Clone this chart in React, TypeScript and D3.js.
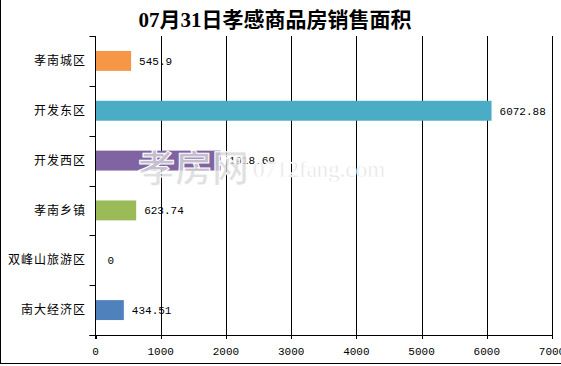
import React, { useEffect, useRef } from 'react';
import * as d3 from 'd3';

const categories = ['孝南城区', '开发东区', '开发西区', '孝南乡镇', '双峰山旅游区', '南大经济区'];
const areaValues = [545.9, 6072.88, 1918.69, 623.74, 0, 434.51];
const barColors = ['#F79646', '#4BACC6', '#8064A2', '#9BBB59', '#4F81BD', '#4F81BD'];
const xTicks = [0, 1000, 2000, 3000, 4000, 5000, 6000, 7000];
const title = '07月31日孝感商品房销售面积';

const W = 561;
const H = 366;

const App: React.FC = () => {
  const svgRef = useRef<SVGSVGElement>(null);

  useEffect(() => {
    if (!svgRef.current) return;
    const svg = d3.select(svgRef.current);
    svg.selectAll('*').remove();

    const left = 95.5;
    const right = 552;
    const top = 36;
    const bottom = 335;

    svg.append('rect').attr('width', W).attr('height', H).attr('fill', '#fff');

    // frame (left + bottom)
    svg.append('line').attr('x1', 0.5).attr('x2', 0.5).attr('y1', 0).attr('y2', 364)
      .attr('stroke', '#000');
    svg.append('line').attr('x1', 0).attr('x2', W).attr('y1', 363.5).attr('y2', 363.5)
      .attr('stroke', '#000');

    svg.append('text')
      .attr('x', 275)
      .attr('y', 27)
      .attr('text-anchor', 'middle')
      .attr('font-family', 'Liberation Serif, Noto Sans CJK SC, serif')
      .attr('font-weight', 'bold')
      .attr('font-size', 21)
      .attr('fill', '#000')
      .text(title);

    const xScale = d3.scaleLinear().domain([0, 7000]).range([left, right]);
    const yScale = d3.scaleBand<string>()
      .domain(categories)
      .range([top, bottom])
      .paddingInner(0.6)
      .paddingOuter(0.3);

    const g = svg.append('g');

    // gridlines
    g.selectAll('.grid')
      .data(xTicks.slice(1))
      .enter()
      .append('line')
      .attr('x1', (d) => Math.round(xScale(d)) + 0.5)
      .attr('x2', (d) => Math.round(xScale(d)) + 0.5)
      .attr('y1', top)
      .attr('y2', bottom)
      .attr('stroke', '#000');

    // bars
    g.selectAll('.bar')
      .data(areaValues)
      .enter()
      .append('rect')
      .attr('x', left)
      .attr('y', (_d, i) => yScale(categories[i]) || 0)
      .attr('width', (d) => xScale(d) - left)
      .attr('height', yScale.bandwidth())
      .attr('fill', (_d, i) => barColors[i]);

    // center watermark (sits over the bars, under the labels)
    const cw = svg.append('g');
    cw.append('text')
      .attr('x', 138)
      .attr('y', 182)
      .attr('font-family', 'Noto Sans CJK SC, sans-serif')
      .attr('font-size', 37)
      .attr('font-weight', 'bold')
      .attr('fill', '#d8d8dc')
      .attr('fill-opacity', 0.8)
      .attr('stroke', '#fff')
      .attr('stroke-width', 1)
      .text('孝房网');
    cw.append('text')
      .attr('x', 253)
      .attr('y', 177)
      .attr('font-family', 'Liberation Serif, serif')
      .attr('font-size', 23)
      .attr('fill', '#e2e2e2')
      .attr('stroke', '#fff')
      .attr('stroke-width', 0.6)
      .text('0712fang.com');

    // y axis
    g.append('line')
      .attr('x1', left).attr('x2', left)
      .attr('y1', top).attr('y2', bottom + 4)
      .attr('stroke', '#000');
    d3.range(categories.length + 1).forEach((i) => {
      const y = Math.round(top + i * yScale.step()) + 0.5;
      g.append('line')
        .attr('x1', left - 6).attr('x2', left)
        .attr('y1', y).attr('y2', y)
        .attr('stroke', '#000');
    });

    // x axis
    g.append('line')
      .attr('x1', left - 6).attr('x2', right)
      .attr('y1', bottom + 0.5).attr('y2', bottom + 0.5)
      .attr('stroke', '#000');
    g.selectAll('.xtick')
      .data(xTicks)
      .enter()
      .append('line')
      .attr('x1', (d) => Math.round(xScale(d)) + 0.5)
      .attr('x2', (d) => Math.round(xScale(d)) + 0.5)
      .attr('y1', bottom)
      .attr('y2', bottom + 4)
      .attr('stroke', '#000');
    g.selectAll('.xlabel')
      .data(xTicks)
      .enter()
      .append('text')
      .attr('x', (d) => xScale(d))
      .attr('y', 355)
      .attr('text-anchor', 'middle')
      .attr('font-family', 'Liberation Mono, monospace')
      .attr('font-size', 11)
      .attr('fill', '#000')
      .text((d) => String(d));

    // category labels
    g.selectAll('.ylabel')
      .data(categories)
      .enter()
      .append('text')
      .attr('x', 86)
      .attr('y', (d) => (yScale(d) || 0) + yScale.bandwidth() / 2)
      .attr('dy', '0.35em')
      .attr('text-anchor', 'end')
      .attr('font-family', 'Noto Sans CJK SC, sans-serif')
      .attr('font-size', 12)
      .attr('letter-spacing', 1)
      .attr('fill', '#000')
      .text((d) => d);

    // value labels
    g.selectAll('.vlabel')
      .data(areaValues)
      .enter()
      .append('text')
      .attr('x', (d) => xScale(d) + (d === 0 ? 12 : 8))
      .attr('y', (_d, i) => (yScale(categories[i]) || 0) + yScale.bandwidth() / 2)
      .attr('dy', '0.35em')
      .attr('font-family', 'Liberation Mono, monospace')
      .attr('font-size', 11)
      .attr('fill', '#000')
      .text((d) => String(d));
  }, []);

  return (
    <div style={{ position: 'absolute', left: 0, top: 0, width: W, height: H, overflow: 'hidden' }}>
      <svg ref={svgRef} width={W} height={H} style={{ display: 'block' }}></svg>
    </div>
  );
};

export default App;
